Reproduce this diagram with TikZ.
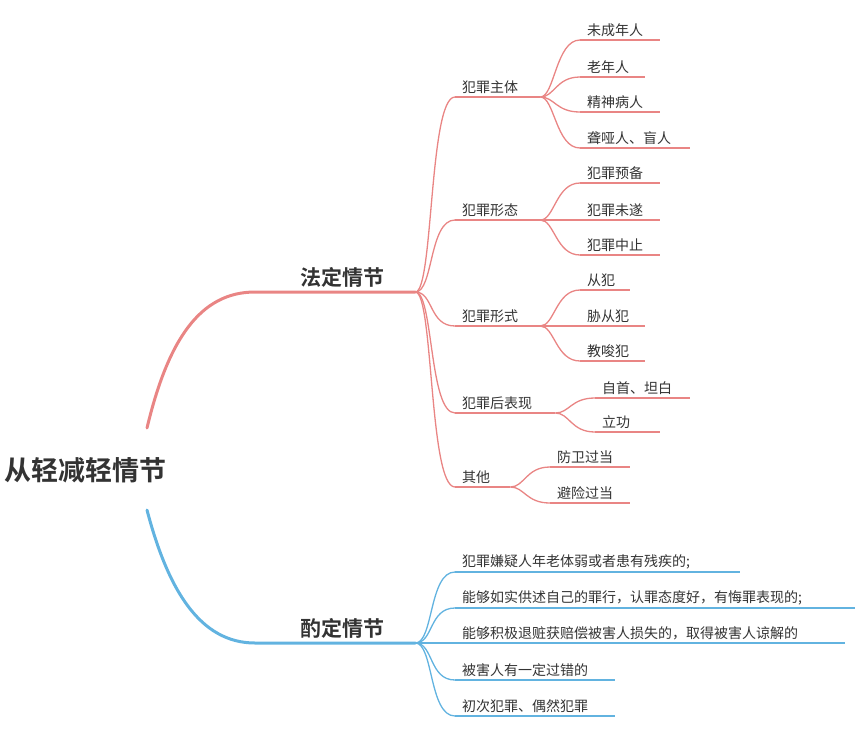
\documentclass[tikz,border=0pt]{standalone}
\usepackage{fontspec}
\setmainfont{Noto Sans CJK SC}[BoldFont={Noto Sans CJK SC Bold}]
\usepackage{xcolor}
\definecolor{fdred}{HTML}{E98584}
\definecolor{zdblue}{HTML}{62B3E0}
\definecolor{txtgray}{HTML}{333333}
\tikzset{
  leaf/.style={anchor=south west, inner xsep=0pt, inner ysep=3pt, text=txtgray, font=\fontsize{14}{16}\selectfont, align=left},
  mainleaf/.style={anchor=south west, inner xsep=0pt, inner ysep=4pt, text=txtgray, font=\fontsize{21}{24}\selectfont\bfseries, align=left},
  redline/.style={draw=fdred, line width=1.3pt},
  blueline/.style={draw=zdblue, line width=1.3pt},
  bigred/.style={draw=fdred, line width=3pt, line cap=round},
  bigblue/.style={draw=zdblue, line width=3pt, line cap=round},
}
% leaf node: name, x, y, width, text
\newcommand{\leaf}[5]{\node (#1) [leaf, text width=#4pt] at (#2,#3) {\hspace*{7pt}#5};}
\newcommand{\link}[3]{\draw[#1] (#2.south east) .. controls +(14,0) and +(-24,0) .. (#3.south west);}
\begin{document}
\begin{tikzpicture}[x=1pt,y=-1pt]
\useasboundingbox (0,0) rectangle (855,740);
% root
\node (root) [anchor=west, inner sep=0pt, text=txtgray, font=\fontsize{27}{30}\selectfont\bfseries] at (4,470) {从轻减轻情节};
\coordinate (rootup) at (147,428);
\coordinate (rootdown) at (147,510);
% first level
\node (fading) [mainleaf, text width=160pt] at (255,292) {\hspace*{45pt}法定情节};
\node (zhuoding) [mainleaf, text width=160pt] at (255,643) {\hspace*{45pt}酌定情节};
\draw[bigred] (rootup) .. controls (168,340) and (200,292) .. (fading.south west) -- (fading.south east);
\draw[bigblue] (rootdown) .. controls (168,590) and (200,643) .. (zhuoding.south west) -- (zhuoding.south east);
% second level, red
\leaf{zhuti}{455}{97}{85}{犯罪主体}
\leaf{xingtai}{455}{220}{85}{犯罪形态}
\leaf{xingshi}{455}{326}{85}{犯罪形式}
\leaf{houbiao}{455}{413}{100}{犯罪后表现}
\leaf{qita}{455}{487}{55}{其他}
\foreach \n in {zhuti,xingtai,xingshi,houbiao,qita}{
  \draw[redline] (\n.south west) -- (\n.south east);
  \draw[redline] (fading.south east) .. controls +(18,0) and +(-26,0) .. (\n.south west);
}
% third level, red
\leaf{wcn}{580}{40}{80}{未成年人}
\leaf{lnr}{580}{77}{65}{老年人}
\leaf{jsb}{580}{112}{80}{精神病人}
\leaf{lyr}{580}{148}{110}{聋哑人、盲人}
\leaf{yb}{580}{183}{80}{犯罪预备}
\leaf{ws}{580}{220}{80}{犯罪未遂}
\leaf{zz}{580}{255}{80}{犯罪中止}
\leaf{cf}{580}{290}{50}{从犯}
\leaf{xcf}{580}{326}{65}{胁从犯}
\leaf{jsf}{580}{361}{65}{教唆犯}
\leaf{zs}{595}{398}{95}{自首、坦白}
\leaf{lg}{595}{432}{65}{立功}
\leaf{fw}{550}{467}{80}{防卫过当}
\leaf{bx}{550}{503}{80}{避险过当}
\foreach \p/\c in {zhuti/wcn,zhuti/lnr,zhuti/jsb,zhuti/lyr,xingtai/yb,xingtai/ws,xingtai/zz,
  xingshi/cf,xingshi/xcf,xingshi/jsf,houbiao/zs,houbiao/lg,qita/fw,qita/bx}{
  \draw[redline] (\c.south west) -- (\c.south east);
  \link{redline}{\p}{\c}
}
% second level, blue
\leaf{nl}{455}{572}{285}{犯罪嫌疑人年老体弱或者患有残疾的;}
\leaf{rs}{455}{608}{400}{能够如实供述自己的罪行，认罪态度好，有悔罪表现的;}
\leaf{tz}{455}{643}{390}{能够积极退赃获赔偿被害人损失的，取得被害人谅解的}
\leaf{gc}{455}{680}{160}{被害人有一定过错的}
\leaf{cc}{455}{716}{160}{初次犯罪、偶然犯罪}
\foreach \n in {nl,rs,tz,gc,cc}{
  \draw[blueline] (\n.south west) -- (\n.south east);
  \draw[blueline] (zhuoding.south east) .. controls +(18,0) and +(-26,0) .. (\n.south west);
}
\end{tikzpicture}
\end{document}
